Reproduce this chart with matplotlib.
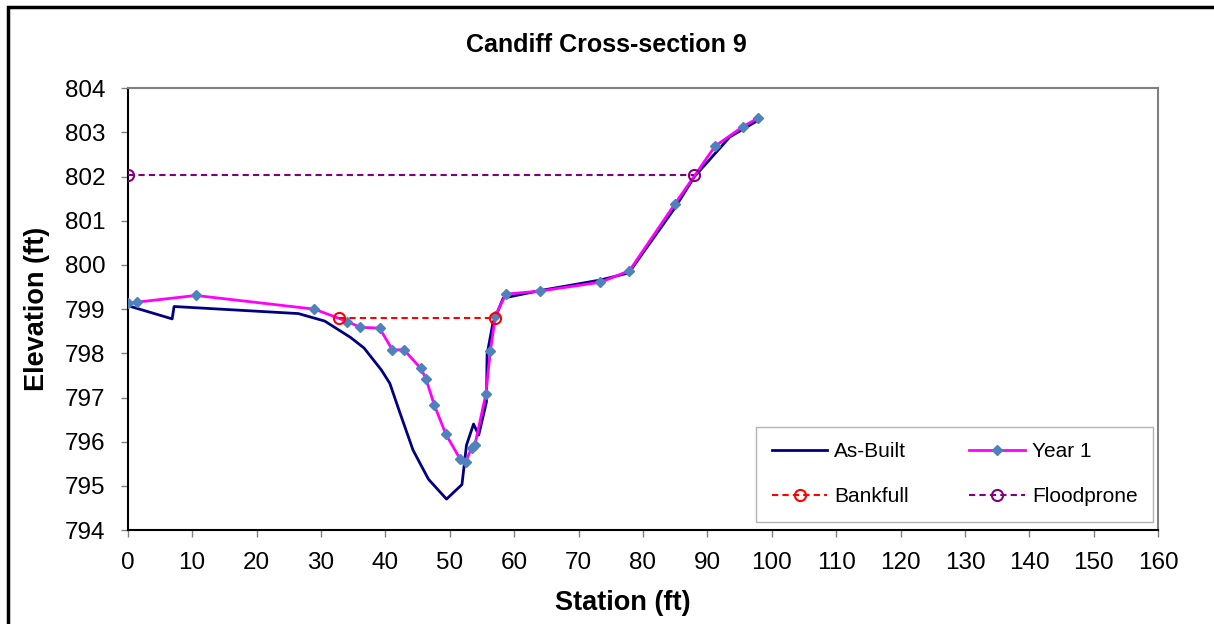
import matplotlib
matplotlib.use("Agg")
import matplotlib.pyplot as plt
from matplotlib.patches import Rectangle

plt.rcParams["font.family"] = ["Liberation Sans", "DejaVu Sans"]

# As-Built survey
asbuilt_x = [0, 6.9, 7.2, 26.5, 30.6, 34.6, 36.7, 39.4, 40.7, 42.3, 44.3, 46.7,
             49.5, 51.9, 52.6, 53.7, 54.5, 55.7, 55.8, 56.7, 58.3, 64.0, 73.4,
             77.8, 85.0, 88.0, 93.5, 97.7]
asbuilt_y = [799.08, 798.78, 799.06, 798.90, 798.73, 798.36, 798.12, 797.62,
             797.32, 796.64, 795.81, 795.15, 794.70, 795.03, 795.92, 796.40,
             796.15, 796.90, 797.98, 798.68, 799.25, 799.42, 799.66, 799.82,
             801.30, 802.00, 802.90, 803.26]

# Year 1 survey
year1_x = [0, 1.5, 10.6, 29.0, 34.1, 36.1, 39.1, 41.1, 42.9, 45.5, 46.3, 47.6,
           49.4, 51.6, 52.5, 53.4, 53.9, 55.6, 56.3, 57.1, 58.7, 64.0, 73.4,
           77.9, 85.0, 91.2, 95.5, 97.8]
year1_y = [799.13, 799.16, 799.31, 799.00, 798.72, 798.59, 798.57, 798.08,
           798.08, 797.66, 797.43, 796.83, 796.17, 795.61, 795.55, 795.86,
           795.92, 797.07, 798.05, 798.85, 799.34, 799.41, 799.61, 799.87,
           801.39, 802.69, 803.13, 803.32]

bankfull_x = [32.8, 57.1]
bankfull_y = [798.79, 798.79]

floodprone_x = [0, 88.0]
floodprone_y = [802.04, 802.04]

fig = plt.figure(figsize=(12.14, 6.24), dpi=100)
ax = fig.add_axes([0.1052, 0.1506, 0.8488, 0.7079])

l_ab, = ax.plot(asbuilt_x, asbuilt_y, color="#000080", lw=2, label="As-Built",
                zorder=2)
l_y1, = ax.plot(year1_x, year1_y, color="#FF00FF", lw=2, marker="D", ms=5.5,
                mfc="#4F81BD", mec="#4F81BD", label="Year 1", zorder=3)
l_bf, = ax.plot(bankfull_x, bankfull_y, color="#FF0000", lw=1.5, ls=(0, (3, 2)),
                marker="o", ms=8, mfc="none", mec="#FF0000", mew=1.5,
                label="Bankfull", zorder=4)
l_fp, = ax.plot(floodprone_x, floodprone_y, color="#800080", lw=1.5,
                ls=(0, (3, 2)), marker="o", ms=8, mfc="none", mec="#800080",
                mew=1.5, label="Floodprone", zorder=4)

ax.set_xlim(0, 160)
ax.set_ylim(794, 804)
ax.set_xticks(range(0, 161, 10))
ax.set_yticks(range(794, 805, 1))
ax.tick_params(axis="both", direction="out", length=5, width=1, color="#808080",
               labelsize=17.5, pad=10.5)
ax.tick_params(axis="y", pad=11)

ax.spines["left"].set_color("black")
ax.spines["bottom"].set_color("black")
ax.spines["top"].set_color("#808080")
ax.spines["right"].set_color("#808080")
for s in ax.spines.values():
    s.set_linewidth(1.5)

# title sits over the middle of the whole chart, not the plot area
ax.set_title("Candiff Cross-section 9", fontsize=18, fontweight="bold", pad=26,
             x=0.465)
ax.set_xlabel("Station (ft)", fontsize=19.5, fontweight="bold", labelpad=12,
              x=0.48)
ax.set_ylabel("Elevation (ft)", fontsize=19.5, fontweight="bold", labelpad=11)

# row-wise order like the original: As-Built, Year 1 / Bankfull, Floodprone
leg = ax.legend([l_ab, l_bf, l_y1, l_fp],
                ["As-Built", "Bankfull", "Year 1", "Floodprone"],
                ncol=2, loc="lower right", bbox_to_anchor=(0.9952, 0.018),
                borderaxespad=0, fontsize=15, frameon=True, fancybox=False,
                edgecolor="#A0A0A0", borderpad=0.75, labelspacing=1.25,
                handlelength=2.65, columnspacing=2.9, handletextpad=0.35)
leg.get_frame().set_linewidth(1)

# outer chart border
fig.patches.append(Rectangle((8 / 1214, -0.1), 1.2, 1 - 7 / 624 + 0.1,
                             transform=fig.transFigure, fill=False,
                             edgecolor="black", lw=2.5))

fig.savefig("out.png", dpi=100)
